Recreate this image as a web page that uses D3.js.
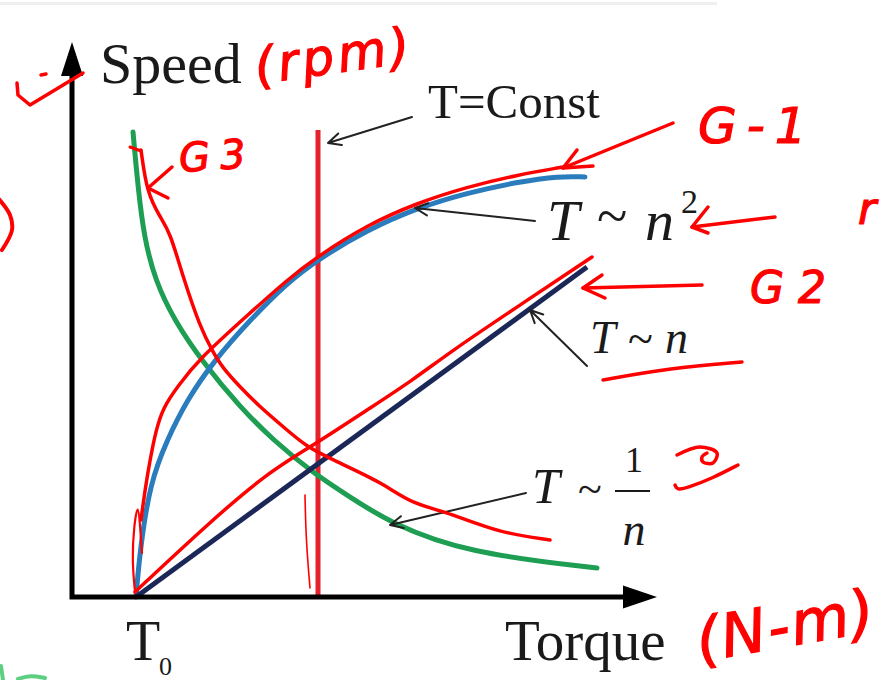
<!DOCTYPE html>
<html>
<head>
<meta charset="utf-8">
<script src="https://cdn.jsdelivr.net/npm/d3@7"></script>
<style>
  html, body { margin: 0; padding: 0; background: #fff; }
  svg { display: block; }
</style>
</head>
<body>
<svg id="chart" width="890" height="680"></svg>
<script>
// ---- Load characteristics: speed n vs. torque T (arbitrary units) ----
const torqueStart = 12.8;          // T0, breakaway torque
const torqueMax = 117;             // end of the torque axis arrow
const speedMax = 111;              // end of the speed axis arrow

// T ~ 1/n  (constant power)
const curveInverse = [[12.2,93],[13.2,82],[14.4,72],[16.6,63.4],[20.4,55.4],[26.4,46.6],[33.6,38],
  [40.2,31.4],[48.2,24.8],[55.6,20],[63.6,14.8],[79,8.8],[105,5.8]];
// T ~ n^2  (fan / pump load)
const curveSquare = [[12.8,0],[13.6,9.4],[15.6,22.8],[19,31.4],[23,39.4],[28.2,47],[35.6,55.4],
  [43,62.8],[49,67.4],[59,73.4],[69,77.8],[79,80.8],[89,83],[97.6,84.2],[102.6,84]];
// T ~ n
const curveLinear = [[12.8,0],[103,66]];
// T = Const
const curveConst = [[49.2,0],[49.2,93.4]];

// Axis and tick labels
const yTitle = "Speed";
const xTitle = "Torque";
const tickLabel = "T";
const tickSub = "0";

// ---- Hand-written notes over the chart ----
const noteG1 = [[13.8,15.4],[14.6,21.4],[15.6,27.4],[16.8,33.4],[18.2,37.8],[21,42],[25.6,47.8],
  [35.6,56.8],[43,63.4],[49.2,68.2],[59,74.4],[69,78.8],[79,82],[89,84.4],[98.2,86]];
const noteG1Hook = [[12.6,1],[12,7.4],[12.4,14.4],[13.2,19],[13.6,14.4],[14,8.8]];
const noteG2 = [[12.6,1],[27.6,15],[39,24.8],[49,30.8],[59,37.4],[68.2,43.4],[75.6,49],[89.6,58.4],[104,68]];
const noteG3 = [[13.8,89.4],[15,80.8],[17.6,76],[19.6,73],[22.2,64],[25.6,54],[28.2,49],[30,46],
  [33.6,42],[37.6,38],[43,33.4],[47,30],[52.2,27.4],[62.2,22.8],[67.6,18.8],[75.6,16.8],[85.6,12.8],[95.6,11.4]];
const noteG3Tick = [[11.6,90],[13.8,89.2]];
const noteG3Head = [[20,86],[15.2,81.8],[19.2,79.8]];
const noteArrowG1 = [[120.2,94.8],[98.2,85.8]];
const noteArrowG1Head = [[101,89.4],[98.2,85.8],[104.2,86.2]];
const noteArrowN2 = [[140.6,76],[124,74]];
const noteArrowN2Head = [[127.2,78],[124,74],[127.2,72.8]];
const noteArrowG2 = [[126,62.4],[102.2,61.8]];
const noteArrowG2Head = [[106,64.4],[102.2,61.8],[106.6,59.8]];
const noteUnderline = [[106.2,43.4],[119.6,45.8],[134,47]];
const noteCurlA = [[121,28.4],[125.6,30],[129,28.8],[128.2,26.8],[126.2,27],[126,28],[127,28.8]];
const noteCurlB = [[120.6,22.4],[121,21.4],[123,21.8],[128.2,23.8],[133.2,26.4]];
const noteTick = [[46.6,20.4],[46.8,11.4],[47.6,1.8]];
const noteAxisMark = [[-11,102.8],[-10.8,100.4],[-8.4,98.4],[2.2,104.8]];
const noteAxisDot = [[-6.2,104.4],[-5.2,104.6]];
const noteParen = [[-14.8,79.8],[-12.4,76.4],[-12,73.4],[-14,69.4]];
const noteGreenA = [[-14.2,-13.8],[-13.8,-16.6]];
const noteGreenB = [[-10.8,-16.4],[-8.4,-15.6],[-5.4,-16.2]];
const noteTexts = [
  { text: "(rpm)", at: [37, 102.6] },
  { text: "G-1",   at: [125.2, 90.8] },
  { text: "G2",    at: [135.6, 58.8] },
  { text: "G3",    at: [21.6, 85] },
  { text: "r",     at: [157.2, 74.6] },
  { text: "(N-m)", at: [125.6, -13] }
];

// ---- Scales ----
const x = d3.scaleLinear().domain([0, 120]).range([72, 672]);
const y = d3.scaleLinear().domain([0, 110]).range([597, 47]);

const svg = d3.select("#chart");
const smooth = d3.line().x(d => x(d[0])).y(d => y(d[1])).curve(d3.curveBasis);
const straight = d3.line().x(d => x(d[0])).y(d => y(d[1]));

// faint rule along the top edge
svg.append("rect").attr("x", 0).attr("y", 2).attr("width", 717).attr("height", 3).attr("fill", "#efefef");

// ---- Load curves ----
const curves = svg.append("g").attr("fill", "none");
curves.append("path").datum(curveConst).attr("d", straight)
  .attr("stroke", "#e5212b").attr("stroke-width", 5);
curves.append("path").datum(curveInverse).attr("d", smooth)
  .attr("stroke", "#1e9e52").attr("stroke-width", 5).attr("stroke-linecap", "round");
curves.append("path").datum(curveSquare).attr("d", smooth)
  .attr("stroke", "#2a7cbd").attr("stroke-width", 5).attr("stroke-linecap", "round");
curves.append("path").datum(curveLinear).attr("d", straight)
  .attr("stroke", "#1b2757").attr("stroke-width", 5);

// ---- Axes with arrow heads ----
const axes = svg.append("g");
axes.append("path")
  .attr("d", `M${x(0)},${y(speedMax) + 30}L${x(0)},${y(0)}L${x(torqueMax) - 30},${y(0)}`)
  .attr("fill", "none").attr("stroke", "#000").attr("stroke-width", 5)
  .attr("stroke-linecap", "square").attr("stroke-linejoin", "miter");
axes.append("path")
  .attr("d", `M${x(0)},${y(speedMax)}L${x(0) - 11},${y(speedMax) + 34}L${x(0) + 11},${y(speedMax) + 34}Z`)
  .attr("fill", "#000");
axes.append("path")
  .attr("d", `M${x(torqueMax)},${y(0)}L${x(torqueMax) - 34},${y(0) - 11.5}L${x(torqueMax) - 34},${y(0) + 11.5}Z`)
  .attr("fill", "#000");

// ---- Axis titles and T0 ----
const serif = "'Liberation Serif', 'Times New Roman', serif";
svg.append("text").attr("x", x(5.6)).attr("y", y(102.8))
  .attr("font-family", serif).attr("font-size", 58).attr("fill", "#1a1a1a").text(yTitle);
svg.append("text").attr("x", x(86.6)).attr("y", y(-12.6))
  .attr("font-family", serif).attr("font-size", 57).attr("fill", "#1a1a1a").text(xTitle);
const t0 = svg.append("g").attr("font-family", serif).attr("fill", "#1a1a1a");
t0.append("text").attr("x", x(torqueStart) - 10).attr("y", y(-12.6)).attr("font-size", 56).text(tickLabel);
t0.append("text").attr("x", x(torqueStart) + 23).attr("y", y(-15.6)).attr("font-size", 26).text(tickSub);

// ---- Callout labels with pointer arrows ----
function pointer(g, from, to, color, width, len) {
  const x1 = x(from[0]), y1 = y(from[1]), x2 = x(to[0]), y2 = y(to[1]);
  const a = Math.atan2(y1 - y2, x1 - x2), s = 0.45;
  g.append("path")
    .attr("d", `M${x1},${y1}L${x2},${y2}` +
      `M${x2 + len * Math.cos(a + s)},${y2 + len * Math.sin(a + s)}L${x2},${y2}` +
      `L${x2 + len * Math.cos(a - s)},${y2 + len * Math.sin(a - s)}`)
    .attr("fill", "none").attr("stroke", color).attr("stroke-width", width)
    .attr("stroke-linecap", "round").attr("stroke-linejoin", "round");
}
const callouts = svg.append("g");
pointer(callouts, [68, 96], [51.2, 90.8], "#222", 2, 14);
pointer(callouts, [92.6, 75.2], [68.6, 77.8], "#222", 2, 14);
pointer(callouts, [103, 46.2], [91.6, 57.4], "#222", 2, 14);
pointer(callouts, [90.8, 20.8], [63.6, 14.4], "#222", 2, 14);

const labels = svg.append("g").attr("font-family", serif).attr("fill", "#1a1a1a");
labels.append("text").attr("x", x(71.2)).attr("y", y(95.8)).attr("font-size", 49).text("T=Const");

// T ~ n^2
{
  const ax = x(95), ay = y(71.4);
  labels.append("text").attr("x", ax).attr("y", ay).attr("font-size", 58).attr("font-style", "italic").text("T");
  labels.append("text").attr("x", ax + 50).attr("y", ay - 5).attr("font-size", 56).text("~");
  labels.append("text").attr("x", ax + 98).attr("y", ay).attr("font-size", 58).attr("font-style", "italic").text("n");
  labels.append("text").attr("x", ax + 134).attr("y", ay - 27).attr("font-size", 34).text("2");
}
// T ~ n
{
  const ax = x(103.6), ay = y(48.8);
  labels.append("text").attr("x", ax).attr("y", ay).attr("font-size", 46).attr("font-style", "italic").text("T");
  labels.append("text").attr("x", ax + 38).attr("y", ay + 1).attr("font-size", 46).text("~");
  labels.append("text").attr("x", ax + 75).attr("y", ay).attr("font-size", 46).attr("font-style", "italic").text("n");
}
// T ~ 1/n
{
  const ax = x(92), ay = y(18.8);
  labels.append("text").attr("x", ax).attr("y", ay).attr("font-size", 50).attr("font-style", "italic").text("T");
  labels.append("text").attr("x", ax + 46).attr("y", ay + 1).attr("font-size", 44).text("~");
  labels.append("line").attr("x1", ax + 83).attr("x2", ax + 118).attr("y1", ay - 12).attr("y2", ay - 12)
    .attr("stroke", "#1a1a1a").attr("stroke-width", 2);
  labels.append("text").attr("x", ax + 102).attr("y", ay - 31).attr("font-size", 36)
    .attr("text-anchor", "middle").text("1");
  labels.append("text").attr("x", ax + 102).attr("y", ay + 42).attr("font-size", 46)
    .attr("font-style", "italic").attr("text-anchor", "middle").text("n");
}

// ---- Hand-written red notes ----
const ink = "#ff0000";
const notes = svg.append("g").attr("fill", "none").attr("stroke", ink)
  .attr("stroke-linecap", "round").attr("stroke-linejoin", "round");
const draw = (pts, w, gen) => notes.append("path").datum(pts).attr("d", gen || smooth).attr("stroke-width", w);

draw(noteG1, 3.5);
draw(noteG1Hook, 2.2);
draw(noteG2, 3.5);
draw(noteG3, 3.5);
draw(noteG3Tick, 3, straight);
draw(noteG3Head, 3.5, straight);
draw(noteArrowG1, 3.5, straight);
draw(noteArrowG1Head, 3.5, straight);
draw(noteArrowN2, 3.5, straight);
draw(noteArrowN2Head, 3.5, straight);
draw(noteArrowG2, 3.5, straight);
draw(noteArrowG2Head, 3.5, straight);
draw(noteUnderline, 3.5);
draw(noteCurlA, 3.5, d3.line().x(d => x(d[0])).y(d => y(d[1])).curve(d3.curveCatmullRom));
draw(noteCurlB, 3.5);
draw(noteTick, 1.6);
draw(noteAxisMark, 3.5, straight);
draw(noteAxisDot, 3.5, straight);
draw(noteParen, 4, d3.line().x(d => x(d[0])).y(d => y(d[1])).curve(d3.curveCatmullRom));
notes.append("path").datum(noteGreenA).attr("d", straight).attr("stroke", "#5ccf80").attr("stroke-width", 4);
notes.append("path").datum(noteGreenB).attr("d", smooth).attr("stroke", "#5ccf80").attr("stroke-width", 4);

const hand = svg.append("g").attr("font-family", "'DejaVu Sans', sans-serif")
  .attr("fill", ink).attr("stroke", ink).attr("stroke-width", 1.2).attr("font-style", "italic");
const handSize = { "(rpm)": 50, "G-1": 50, "G2": 44, "G3": 40, "r": 44, "(N-m)": 60 };
const handTilt = { "(rpm)": -8, "G-1": 0, "G2": 0, "G3": -4, "r": 0, "(N-m)": -10 };
const handSpacing = { "(rpm)": 4, "G-1": 10, "G2": 14, "G3": 10, "r": 0, "(N-m)": 2 };
hand.selectAll("text").data(noteTexts).join("text")
  .attr("transform", d => `translate(${x(d.at[0])},${y(d.at[1])}) rotate(${handTilt[d.text]})`)
  .attr("font-size", d => handSize[d.text])
  .attr("letter-spacing", d => handSpacing[d.text])
  .text(d => d.text);
</script>
</body>
</html>
